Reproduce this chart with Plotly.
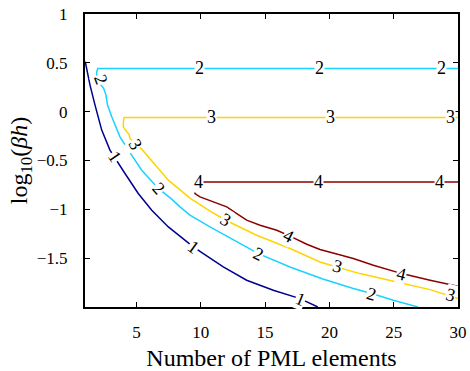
import plotly.graph_objects as go

# ---- data ----
x1 = [1.02, 1.39, 1.78, 2.30, 2.94, 3.33, 4.11, 5.14, 6.19, 7.48, 8.78, 9.42, 10.20, 11.75, 13.57, 15.64, 17.72, 19.02, 19.10]
y1 = [0.511, 0.272, 0.067, -0.189, -0.394, -0.476, -0.633, -0.838, -1.009, -1.180, -1.316, -1.385, -1.453, -1.590, -1.726, -1.829, -1.914, -1.993, -2.0]

x2 = [30.0, 1.99, 1.91, 1.91, 2.44, 2.63, 2.69, 2.75, 3.08, 3.47, 3.72, 4.37, 5.41, 6.70, 7.74, 8.39, 9.16, 10.72, 12.80, 14.48, 16.94, 19.43, 21.86, 23.29, 24.97, 26.89]
y2 = [0.443, 0.443, 0.406, 0.324, 0.242, 0.170, 0.119, 0.067, -0.053, -0.189, -0.258, -0.394, -0.599, -0.786, -0.896, -0.975, -1.060, -1.180, -1.334, -1.453, -1.590, -1.711, -1.811, -1.862, -1.931, -2.0]

x3 = [30.0, 4.03, 3.98, 3.98, 4.24, 4.42, 4.50, 4.89, 5.41, 5.80, 6.58, 7.48, 9.16, 10.72, 12.02, 14.35, 16.94, 19.27, 20.57, 22.38, 25.24, 27.83, 30.0]
y3 = [-0.059, -0.059, -0.107, -0.155, -0.206, -0.230, -0.274, -0.332, -0.384, -0.445, -0.560, -0.701, -0.886, -1.019, -1.117, -1.265, -1.401, -1.539, -1.590, -1.658, -1.744, -1.822, -1.914]

x4 = [30.0, 9.63, 9.55, 9.55, 9.94, 10.98, 12.02, 12.80, 13.57, 14.61, 15.91, 16.94, 18.24, 19.27, 21.86, 23.42, 25.63, 27.83, 30.0]
y4 = [-0.719, -0.719, -0.763, -0.838, -0.873, -0.924, -0.975, -1.043, -1.111, -1.163, -1.214, -1.275, -1.357, -1.412, -1.504, -1.573, -1.658, -1.726, -1.788]

levels = ["1", "2", "3", "4"]

# contour labels
lab_text = ["1", "1", "1",
            "2", "2", "2", "2", "2", "2", "2",
            "3", "3", "3", "3", "3", "3", "3",
            "4", "4", "4", "4", "4"]
lab_x = [3.33, 9.42, 17.72,
         2.20, 9.94, 19.27, 28.74, 6.70, 14.48, 23.29,
         4.89, 10.80, 20.11, 29.38, 11.95, 20.60, 29.45,
         9.86, 19.14, 28.53, 16.82, 25.63]
lab_y = [-0.466, -1.385, -1.916,
         0.330, 0.443, 0.443, 0.443, -0.786, -1.453, -1.862,
         -0.332, -0.059, -0.059, -0.059, -1.112, -1.578, -1.880,
         -0.720, -0.720, -0.720, -1.275, -1.658]
lab_angle = [56, 36, 22,
             70, 0, 0, 0, 48, 25, 16,
             60, 0, 0, 0, 30, 16, 15,
             0, 0, 0, 27, 14]

x_ticks = [5, 10, 15, 20, 25, 30]
y_ticks = [-1.5, -1, -0.5, 0, 0.5, 1]
y_ticktext = ["\u22121.5", "\u22121", "\u22120.5", "0", "0.5", "1"]

colors = ["#00008f", "#19d3ff", "#ffd400", "#8c0000"]
FONT = "Liberation Serif"

fig = go.Figure()
for xs, ys, c in zip([x1, x2, x3, x4], [y1, y2, y3, y4], colors):
    fig.add_trace(go.Scatter(x=xs, y=ys, mode="lines",
                             line=dict(color=c, width=1.5),
                             hoverinfo="skip", showlegend=False))

for t, xx, yy, a in zip(lab_text, lab_x, lab_y, lab_angle):
    fig.add_annotation(x=xx, y=yy, text=t, showarrow=False, textangle=a,
                       font=dict(family=FONT, size=18, color="black"),
                       bgcolor="white", borderpad=0)

axis_common = dict(showline=True, linecolor="black", linewidth=2, mirror="ticks",
                   ticks="inside", ticklen=5, tickcolor="black", tickwidth=1,
                   showgrid=False, zeroline=False, automargin=False,
                   tickfont=dict(family=FONT, size=17, color="black"))

fig.update_xaxes(range=[1, 30], tickvals=x_ticks, ticklabelstandoff=9,
                 title=dict(text="Number of PML elements",
                            font=dict(family=FONT, size=24, color="black"), standoff=12),
                 **axis_common)
fig.update_yaxes(range=[-2, 1], tickvals=y_ticks, ticktext=y_ticktext, ticklabelstandoff=12,
                 title=dict(text="log<sub>10</sub>(<i>βh</i>)",
                            font=dict(family=FONT, size=24, color="black"), standoff=2),
                 **axis_common)

fig.update_layout(width=470, height=371, margin=dict(l=85, r=12, t=14, b=64),
                  plot_bgcolor="white", paper_bgcolor="white")

fig.write_html("out.html", config={"displayModeBar": False},
               post_script="document.body.style.margin='0';")
